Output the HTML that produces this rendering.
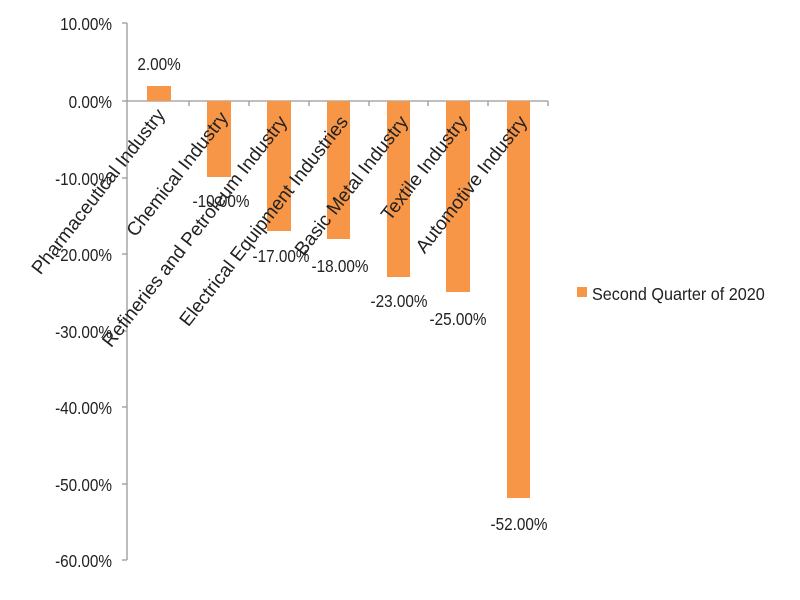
<!DOCTYPE html>
<html><head><style>body{margin:0;background:#fff}svg{display:block}text{font-family:"Liberation Sans",sans-serif;fill:#222}</style></head>
<body>
<svg width="800" height="600" viewBox="0 0 800 600">
<g stroke="#999" stroke-width="1.3">
<line x1="127" y1="23" x2="127" y2="560"/>
<line x1="127" y1="101" x2="548" y2="101"/>
<line x1="122" y1="23" x2="127" y2="23"/>
<line x1="122" y1="101" x2="127" y2="101"/>
<line x1="122" y1="178" x2="127" y2="178"/>
<line x1="122" y1="254" x2="127" y2="254"/>
<line x1="122" y1="331" x2="127" y2="331"/>
<line x1="122" y1="407" x2="127" y2="407"/>
<line x1="122" y1="484" x2="127" y2="484"/>
<line x1="122" y1="560" x2="127" y2="560"/>
<line x1="189" y1="101" x2="189" y2="106"/>
<line x1="249" y1="101" x2="249" y2="106"/>
<line x1="309" y1="101" x2="309" y2="106"/>
<line x1="369" y1="101" x2="369" y2="106"/>
<line x1="428" y1="101" x2="428" y2="106"/>
<line x1="488" y1="101" x2="488" y2="106"/>
<line x1="548" y1="101" x2="548" y2="106"/>
</g>
<g font-size="18" text-anchor="end">
<text transform="translate(112,30) scale(0.85,1)">10.00%</text>
<text transform="translate(112,108) scale(0.85,1)">0.00%</text>
<text transform="translate(112,185) scale(0.85,1)">-10.00%</text>
<text transform="translate(112,261) scale(0.85,1)">-20.00%</text>
<text transform="translate(112,338) scale(0.85,1)">-30.00%</text>
<text transform="translate(112,414) scale(0.85,1)">-40.00%</text>
<text transform="translate(112,491) scale(0.85,1)">-50.00%</text>
<text transform="translate(112,567) scale(0.85,1)">-60.00%</text>
</g>
<g fill="#f79646">
<rect x="147" y="86" width="24" height="15"/>
<rect x="207" y="101" width="24" height="76"/>
<rect x="267" y="101" width="24" height="130"/>
<rect x="327" y="101" width="23" height="138"/>
<rect x="387" y="101" width="23" height="176"/>
<rect x="446" y="101" width="24" height="191"/>
<rect x="507" y="101" width="23" height="397"/>
</g>
<g font-size="19" text-anchor="end">
<text transform="translate(166,115) rotate(-52)">Pharmaceutical Industry</text>
<text transform="translate(229,118) rotate(-52)">Chemical Industry</text>
<text transform="translate(288,122) rotate(-52)">Refineries and Petroleum Industry</text>
<text transform="translate(349,122) rotate(-52)">Electrical Equipment Industries</text>
<text transform="translate(409,122) rotate(-52)">Basic Metal Industry</text>
<text transform="translate(468,122) rotate(-52)">Textile Industry</text>
<text transform="translate(528,122) rotate(-52)">Automotive Industry</text>
</g>
<g font-size="18" text-anchor="middle">
<text transform="translate(159,70) scale(0.85,1)">2.00%</text>
<text transform="translate(221,207) scale(0.85,1)">-10.00%</text>
<text transform="translate(281,262) scale(0.85,1)">-17.00%</text>
<text transform="translate(340,272) scale(0.85,1)">-18.00%</text>
<text transform="translate(399,307) scale(0.85,1)">-23.00%</text>
<text transform="translate(458,325) scale(0.85,1)">-25.00%</text>
<text transform="translate(519,530) scale(0.85,1)">-52.00%</text>
</g>
<rect x="577" y="287" width="10" height="10" fill="#f79646"/>
<text transform="translate(592,300) scale(0.9,1)" font-size="18">Second Quarter of 2020</text>
</svg>
</body></html>
